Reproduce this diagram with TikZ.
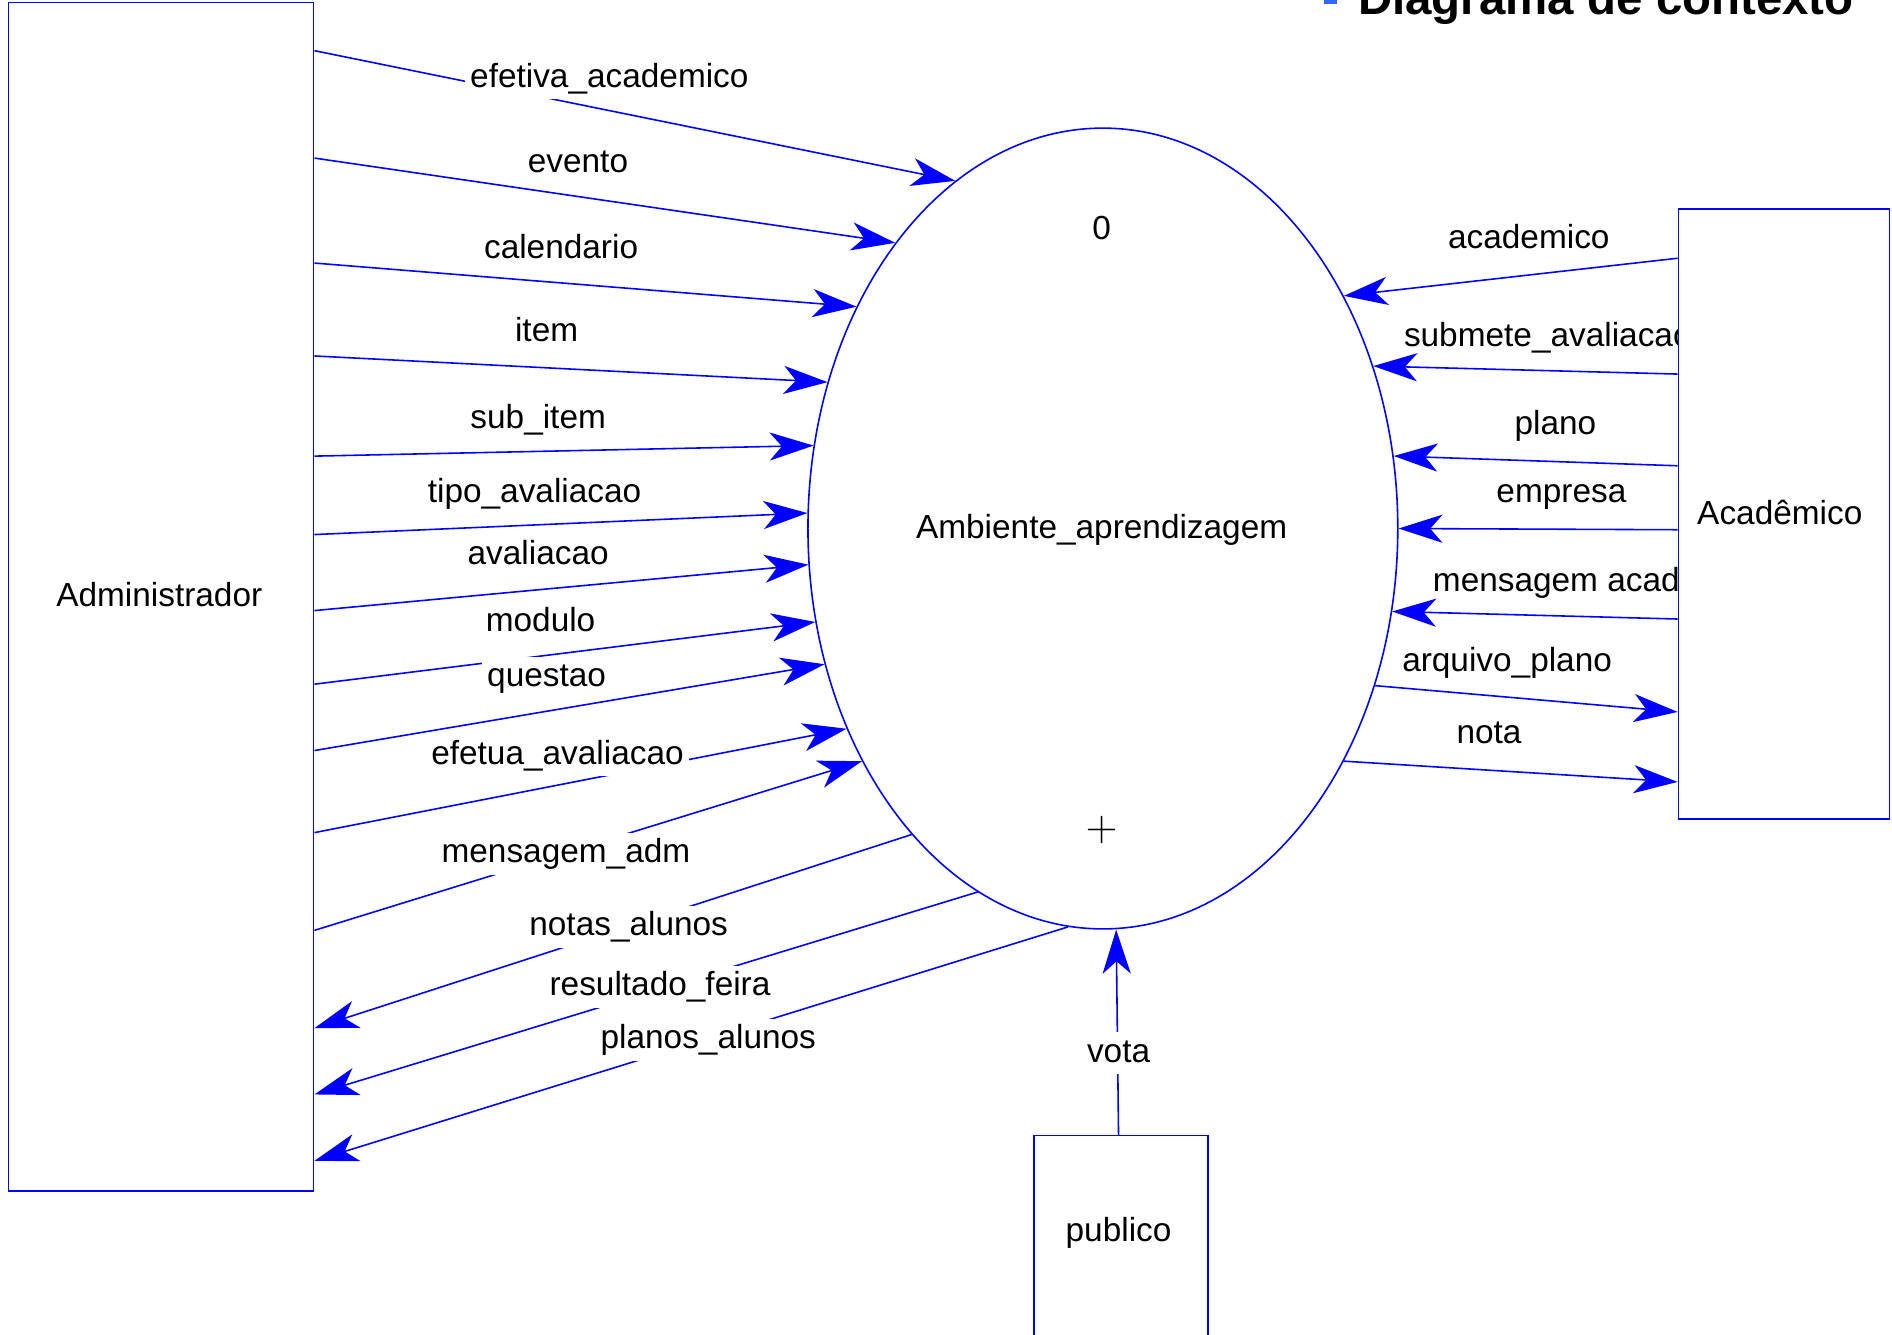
\documentclass[tikz,border=0pt]{standalone}
\usepackage{fontspec}
\setmainfont{Liberation Sans}
\usepackage{tikz}
\usetikzlibrary{arrows.meta,shapes.geometric,backgrounds}

\definecolor{dfdblue}{RGB}{0,0,255}
\definecolor{bulletblue}{RGB}{51,102,255}

\tikzset{
  extbox/.style={draw=dfdblue, fill=white, rectangle, inner sep=0pt, line width=0.45pt},
  proc/.style={draw=dfdblue, ellipse, inner sep=0pt, line width=0.45pt,
               minimum width=5.9cm, minimum height=8.01cm},
  flow/.style={draw=dfdblue, line width=0.45pt,
               -{Stealth[length=12.5pt,width=8pt,inset=3.5pt,fill=dfdblue]}},
  txt/.style={yshift=-1pt},
  lbl/.style={txt, fill=white, inner sep=1.5pt, text height=7pt, text depth=2pt},
}

\begin{document}
\begin{tikzpicture}[x=0.012066cm, y=-0.012066cm, font=\fontsize{9.5}{11}\selectfont]
        \useasboundingbox (0,0) rectangle (1568,1106);

        % title
        \fill[bulletblue] (1097,-6) rectangle (1108,3);
        \node[anchor=base west, inner sep=0pt, font=\fontsize{13.5}{16}\selectfont\bfseries]
          (titulo) at (1125,12.4) {Diagrama de contexto};

        % entities
        \node[extbox, minimum width=3.053cm, minimum height=11.885cm] (adm) at (133.5,494.5) {};
        \node[txt] (admtxt) at (132,490) {Administrador};
        \node[extbox, minimum width=2.112cm, minimum height=6.105cm]  (aca) at (1478.5,426) {};
        \node[txt] (acatxt) at (1475,422) {Acadêmico};
        \node[extbox, minimum width=1.738cm, minimum height=2.5cm]    (pub) at (929,1044.6) {};
        \node[txt] (publico) at (927,1019) {publico};

        % process
        \node[proc] (amb) at (914,438) {};
        \node (zero) at (913,189) {0};
        \node[txt] (nome) at (913,436) {Ambiente\_aprendizagem};
        \node (plus) at (913,688) {\fontsize{13}{14}\selectfont$+$};

        % Administrador -> processo
        \draw[flow] (adm.east |- 0,42)  -- (amb.113);
        \draw[flow] (adm.east |- 0,131) -- (amb.126.1);
        \draw[flow] (adm.east |- 0,218) -- (amb.138.9);
        \draw[flow] (adm.east |- 0,295) -- (amb.152.2);
        \draw[flow] (adm.east |- 0,378) -- (amb.164.4);
        \draw[flow] (adm.east |- 0,443) -- (amb.177.2);
        \draw[flow] (adm.east |- 0,506) -- (amb.187);
        \draw[flow] (adm.east |- 0,567) -- (amb.198.2);
        \draw[flow] (adm.east |- 0,622) -- (amb.206.6);
        \draw[flow] (adm.east |- 0,690) -- (amb.218.8);
        \draw[flow] (adm.east |- 0,771) -- (amb.224.7);

        % processo -> Administrador
        \draw[flow] (amb.238.4) -- (adm.east |- 0,852);
        \draw[flow] (amb.251.4) -- (adm.east |- 0,907);
        \draw[flow] (amb.265.7) -- (adm.east |- 0,962);

        % Academico <-> processo
        \draw[flow] (aca.west |- 0,214) -- (amb.44.3);
        \draw[flow] (aca.west |- 0,310) -- (amb.31.1);
        \draw[flow] (aca.west |- 0,386) -- (amb.14.9);
        \draw[flow] (aca.west |- 0,439) -- (amb.0.2);
        \draw[flow] (aca.west |- 0,513) -- (amb.344.2);
        \draw[flow] (amb.330.5) -- (aca.west |- 0,590);
        \draw[flow] (amb.316.8) -- (aca.west |- 0,648);

        % publico -> processo
        \coordinate (pubtop) at (927,941);
        \coordinate (votatip) at ([xshift=0.133cm]amb.south);
        \draw[flow] (pubtop) -- (votatip);

        % labels
        \node[lbl] (l1)  at (505,62)  {efetiva\_academico};
        \node[lbl] (l2)  at (479,133) {evento};
        \node[lbl] (l3)  at (465,204) {calendario};
        \node[lbl] (l4)  at (453,273) {item};
        \node[lbl] (l5)  at (446,345) {sub\_item};
        \node[lbl] (l6)  at (443,406) {tipo\_avaliacao};
        \node[lbl] (l7)  at (446,458) {avaliacao};
        \node[lbl] (l8)  at (448,513) {modulo};
        \node[lbl] (l9)  at (453,559) {questao};
        \node[lbl] (l10) at (462,623) {efetua\_avaliacao};
        \node[lbl] (l11) at (469,705) {mensagem\_adm};
        \node[lbl] (l12) at (521,765) {notas\_alunos};
        \node[lbl] (l13) at (547,815) {resultado\_feira};
        \node[lbl] (l14) at (587,859) {planos\_alunos};
        \node[lbl] (l15) at (1267,196) {academico};
        \node[lbl] (l17) at (1289,350) {plano};
        \node[lbl] (l18) at (1294,406) {empresa};
        \node[lbl] (l20) at (1249,546) {arquivo\_plano};
        \node[lbl] (l21) at (1234,606) {nota};
        \node[lbl] (l22) at (927,870)  {vota};

        % labels cut by the box
        \begin{scope}[on background layer]
          \node[lbl, anchor=west] (l16) at (1158.6,277) {submete\_avaliacao};
          \node[lbl, anchor=west] (l19) at (1182.6,480) {mensagem acad};
        \end{scope}
\end{tikzpicture}
\end{document}
